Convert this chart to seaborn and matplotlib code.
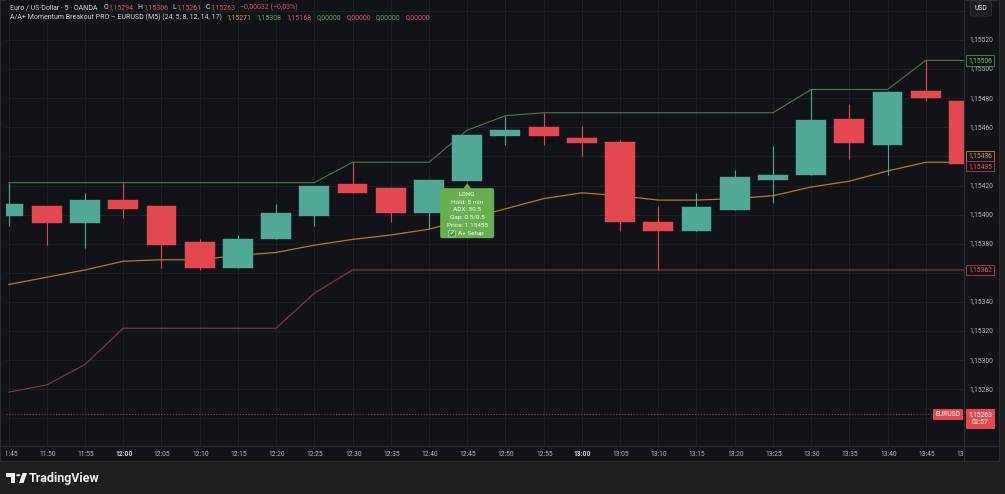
import numpy as np
import seaborn as sns
import matplotlib.pyplot as plt
import matplotlib.transforms as mtransforms
from matplotlib.patches import Rectangle, FancyBboxPatch, Polygon, Circle
from matplotlib.lines import Line2D

# --- data (EURUSD, 5 min bars) ---
times = ['11:45', '11:50', '11:55', '12:00', '12:05', '12:10', '12:15', '12:20', '12:25',
         '12:30', '12:35', '12:40', '12:45', '12:50', '12:55', '13:00', '13:05', '13:10',
         '13:15', '13:20', '13:25', '13:30', '13:35', '13:40', '13:45', '13:50']
opens = [1.15399, 1.15406, 1.15394, 1.15410, 1.15406, 1.15381, 1.15363, 1.15383, 1.15399,
         1.15421, 1.15418, 1.15401, 1.15423, 1.15454, 1.15460, 1.15453, 1.15450, 1.15395,
         1.15389, 1.15403, 1.15424, 1.15427, 1.15466, 1.15448, 1.15485, 1.15478]
highs = [1.15422, 1.15406, 1.15415, 1.15422, 1.15406, 1.15383, 1.15386, 1.15407, 1.15420,
         1.15436, 1.15418, 1.15424, 1.15455, 1.15468, 1.15470, 1.15461, 1.15451, 1.15406,
         1.15415, 1.15431, 1.15447, 1.15486, 1.15476, 1.15485, 1.15506, 1.15478]
lows = [1.15392, 1.15379, 1.15377, 1.15398, 1.15363, 1.15362, 1.15363, 1.15383, 1.15392,
        1.15415, 1.15395, 1.15390, 1.15423, 1.15448, 1.15448, 1.15440, 1.15389, 1.15362,
        1.15389, 1.15403, 1.15408, 1.15427, 1.15438, 1.15427, 1.15478, 1.15434]
closes = [1.15407, 1.15394, 1.15410, 1.15404, 1.15379, 1.15363, 1.15383, 1.15401, 1.15420,
          1.15415, 1.15401, 1.15424, 1.15455, 1.15458, 1.15454, 1.15449, 1.15395, 1.15389,
          1.15405, 1.15426, 1.15427, 1.15465, 1.15449, 1.15484, 1.15480, 1.15435]

# indicator: breakout channel + midline
upper_band = [1.15422] * 9 + [1.15436] * 3 + [1.15458, 1.15468] + [1.15470] * 7 + [1.15486] * 3 + [1.15506] * 2
mid_line = [1.15352, 1.15357, 1.15362, 1.15368, 1.15369, 1.15369, 1.15372, 1.15374, 1.15379,
            1.15383, 1.15386, 1.15390, 1.15397, 1.15404, 1.15411, 1.15415, 1.15413, 1.15410,
            1.15410, 1.15411, 1.15413, 1.15419, 1.15423, 1.15430, 1.15436, 1.15436]
lower_band = [1.15278, 1.15283, 1.15297] + [1.15322] * 5 + [1.15346] + [1.15362] * 17

price_ticks = [1.15260, 1.15280, 1.15300, 1.15320, 1.15340, 1.15360, 1.15380, 1.15400,
               1.15420, 1.15440, 1.15460, 1.15480, 1.15500, 1.15520, 1.15540]
last_price = 1.15263
countdown = '02:57'

signal_bar = 12
signal_lines = ['LONG', 'Hold: 5 min', 'ADX: 30.5', 'Gap: 0.5/0.5', 'Price: 1.15455']
signal_footer = 'A+ Setup'   # preceded by a green check box (✅ has no installed glyph)

header_title = 'Euro / US-Dollar · 5 · OANDA'
header_ohlc = [('O', '1,15294'), ('H', '1,15306'), ('L', '1,15261'), ('C', '1,15263')]
header_change = '−0,00032 (−0,03%)'
study_title = 'A/A+ Momentum Breakout PRO – EURUSD (M5) (24, 5, 8, 12, 14, 17)'
study_values = ['1,15271', '1,15308', '1,15168', '0,00000', '0,00000', '0,00000', '0,00000']

# --- colours ---
frame_bg = '#1e1e1e'
chart_bg = '#111318'
grid_c = '#1e2128'
sep_c = '#2a2e36'
txt_c = '#b2b5be'
up_c = '#52a896'
down_c = '#e34850'
upper_c = '#4b7b47'
mid_c = '#b87733'
lower_c = '#8c3844'
sig_green = '#66b04f'
study_cols = ['#d39a45', '#5fa05a', '#d9555c', '#5fa05a', '#d9555c', '#5fa05a', '#d9555c']

sns.set_theme(style='dark', rc={'axes.facecolor': chart_bg, 'figure.facecolor': frame_bg})
plt.rcParams['font.family'] = ['Roboto', 'DejaVu Sans', 'Noto Sans CJK SC']

W, H = 1005, 494
fig = plt.figure(figsize=(W / 100, H / 100), dpi=100)


def fx(px):
    return px / W


def fy(py):
    return 1 - py / H


def fmt(p):
    return f'{p:.5f}'.replace('.', ',')


# chart pane behind everything
fig.patches.append(Rectangle((0, fy(461)), fx(999), 461 / H, transform=fig.transFigure,
                             fc=chart_bg, ec='#2c2c2c', lw=0.8, zorder=-5))

ax = fig.add_axes([fx(6), fy(446), fx(964) - fx(6), 446 / H])
ax.set_facecolor(chart_bg)
bar_px, x0_px = 38.39, 8.6
ax.set_xlim((6 - x0_px) / bar_px, (964 - x0_px) / bar_px)
ax.set_ylim(1.1552 - 406 / 145540, 1.1552 + 40 / 145540)

idx = np.arange(len(times))
ax.set_xticks(idx)
ax.set_yticks(price_ticks)
ax.tick_params(length=0, labelbottom=False, labelleft=False)
ax.grid(True, color=grid_c, lw=0.7)
for s in ax.spines.values():
    s.set_visible(False)

# indicator lines
sns.lineplot(x=idx, y=upper_band, ax=ax, color=upper_c, lw=0.8, zorder=2)
sns.lineplot(x=idx, y=mid_line, ax=ax, color=mid_c, lw=0.9, zorder=2)
sns.lineplot(x=idx, y=lower_band, ax=ax, color=lower_c, lw=0.8, zorder=2)

# candles
o = np.array(opens)
c = np.array(closes)
cols = np.where(c >= o, up_c, down_c)
ax.vlines(idx, lows, highs, colors=cols, lw=0.8, zorder=3)
ax.bar(idx, np.maximum(np.abs(c - o), 0.000004), bottom=np.minimum(o, c), width=0.78,
       color=cols, edgecolor=cols, linewidth=0.3, zorder=4)

# last price line
ax.axhline(last_price, color=down_c, lw=0.6, ls=(0, (1.5, 2)), zorder=2, alpha=0.8)

# separators between panes
fig.add_artist(Line2D([fx(964), fx(964)], [fy(0), fy(461)], color=sep_c, lw=0.8))
fig.add_artist(Line2D([fx(0), fx(999)], [fy(446), fy(446)], color=sep_c, lw=0.8))

# right price scale (labels hidden behind tags are left out, as on the chart)
trans = mtransforms.blended_transform_factory(fig.transFigure, ax.transData)
tag_prices = [mid_line[-1], closes[-1], lower_band[-1], last_price]
for p in price_ticks:
    if p > 1.1553 or min(abs(p - t) for t in tag_prices) < 0.00006:
        continue
    ax.text(fx(969), p, fmt(p), transform=trans, ha='left', va='center',
            fontsize=4.9, color=txt_c, clip_on=False, zorder=5)


def price_tag(p, text, fc, ec, tc, dy=0, xpx=980):
    tr = mtransforms.offset_copy(trans, fig=fig, y=-dy, units='dots')
    ax.text(fx(xpx), p, text, transform=tr, ha='center', va='center', fontsize=4.9, color=tc,
            bbox=dict(boxstyle='square,pad=0.25', fc=fc, ec=ec, lw=0.7), clip_on=False, zorder=10,
            linespacing=1.15)


price_tag(upper_band[-1], fmt(upper_band[-1]), chart_bg, upper_c, '#7dbb74')
price_tag(mid_line[-1], fmt(mid_line[-1]), chart_bg, mid_c, '#d99a4a', dy=-6.5)
price_tag(closes[-1], fmt(closes[-1]), chart_bg, '#a33a44', '#e0575e', dy=2.5)
price_tag(lower_band[-1], fmt(lower_band[-1]), chart_bg, '#a33a44', '#e0575e')
price_tag(last_price, 'EURUSD', down_c, down_c, 'white', xpx=947.5)
price_tag(last_price, fmt(last_price) + '\n' + countdown, down_c, down_c, 'white', dy=4.5)

# USD button
fig.text(fx(981), fy(8.5), 'USD', ha='center', va='center', fontsize=4.9, color='white',
         bbox=dict(boxstyle='round,pad=0.6,rounding_size=0.3', fc='#1b1d23', ec='#2e323c', lw=0.6),
         zorder=12)

# time axis strip
tax = fig.add_axes([fx(6), fy(461), fx(964) - fx(6), 15 / H])
tax.set_xlim(ax.get_xlim())
tax.set_ylim(0, 1)
tax.axis('off')
for i, t in enumerate(times):
    bold = t.endswith(':00')
    tax.text(i + 0.02, 0.45, t, ha='center', va='center', fontsize=4.9, clip_on=True,
             color='#d1d4dc' if bold else txt_c, fontweight='bold' if bold else 'normal')

# signal label under the breakout candle
fig.canvas.draw()
ident = mtransforms.IdentityTransform()
sx, sy = ax.transData.transform((signal_bar, opens[signal_bar]))
box_top = sy - 7
fig.add_artist(FancyBboxPatch((sx - 27, box_top - 50), 54, 50,
                              boxstyle='round,pad=0,rounding_size=2', fc=sig_green, ec='none',
                              transform=ident, zorder=6))
fig.add_artist(Polygon([(sx, sy - 2), (sx - 4, box_top - 0.5), (sx + 4, box_top - 0.5)],
                       closed=True, fc=sig_green, ec='none', transform=ident, zorder=6))
for k, line in enumerate(signal_lines):
    fig.text(sx / W, (box_top - 6 - 7.9 * k) / H, line, ha='center', va='center', fontsize=4.6,
             color='white', zorder=7)
# last row: check box + text
row_y = box_top - 6 - 7.9 * len(signal_lines)
fig.add_artist(FancyBboxPatch((sx - 18.5, row_y - 3.3), 6.6, 6.6,
                              boxstyle='round,pad=0,rounding_size=1', fc='#43a047', ec='#d8f0d0',
                              lw=0.4, transform=ident, zorder=7))
fig.text((sx - 15.2) / W, row_y / H, '✔', ha='center', va='center', fontsize=4,
         color='white', zorder=8, family=['DejaVu Sans'])
fig.text((sx - 9.5) / W, row_y / H, signal_footer, ha='left', va='center', fontsize=4.6,
         color='white', zorder=7)

# header legend lines
renderer = fig.canvas.get_renderer()


def chain(x, y, text, color, gap):
    t = fig.text(fx(x), fy(y), text, ha='left', va='center', fontsize=5.05, color=color, zorder=8)
    bb = t.get_window_extent(renderer)
    return bb.x1 + gap


x = chain(10, 7.5, header_title, '#d1d4dc', 6)
for letter, val in header_ohlc:
    x = chain(x, 7.5, letter, '#d1d4dc', 0.5)
    x = chain(x, 7.5, val, '#d9555c', 4)
chain(x, 7.5, header_change, '#d9555c', 0)

x = chain(10, 17.5, study_title, '#d1d4dc', 4.5)
for val, col in zip(study_values, study_cols):
    x = chain(x, 17.5, val, col, 5)

# TradingView logo in the bottom bar
logo = [
    Polygon([(fx(6), fy(473)), (fx(15), fy(473)), (fx(15), fy(483)), (fx(11), fy(483)),
             (fx(11), fy(477)), (fx(6), fy(477))], closed=True),
    Circle((fx(18.2), fy(475.2)), 2.1 / W),
    Polygon([(fx(19), fy(483)), (fx(23.5), fy(483)), (fx(27), fy(473)), (fx(22.5), fy(473))],
            closed=True),
]
for shp in logo:
    shp.set_transform(fig.transFigure)
    shp.set_facecolor('#f0f0f0')
    shp.set_edgecolor('none')
    fig.add_artist(shp)
fig.text(fx(29), fy(478), 'TradingView', ha='left', va='center', fontsize=9, color='#f0f0f0',
         fontweight='semibold')

fig.savefig('out.png', dpi=100, facecolor=frame_bg)
